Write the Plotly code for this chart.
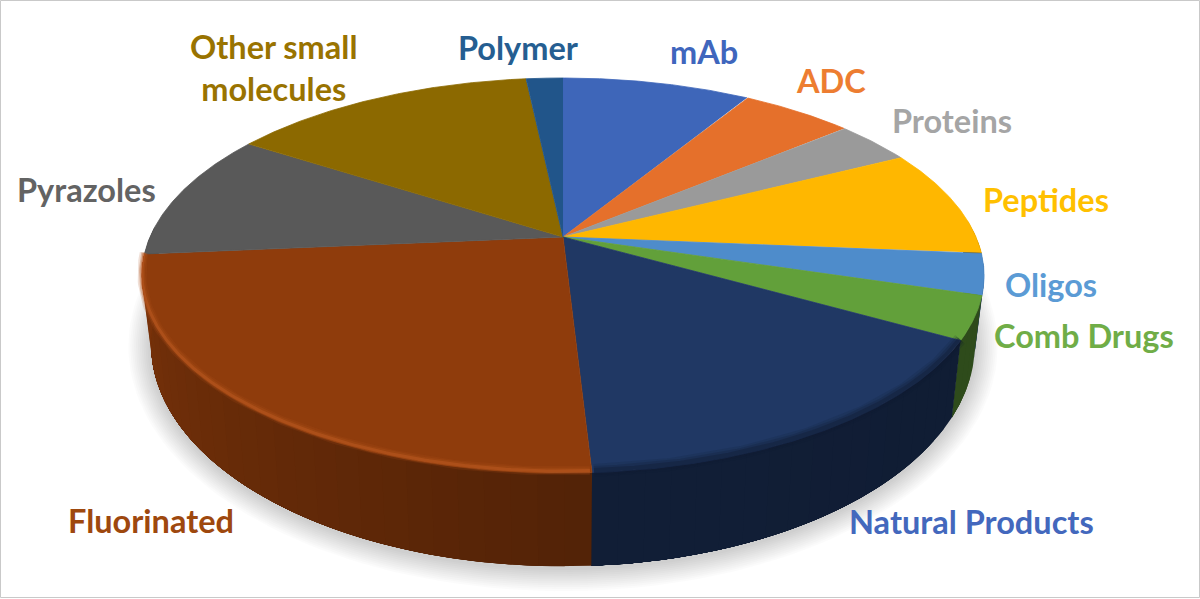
import numpy as np
import plotly.graph_objects as go

categories = ["mAb", "ADC", "Proteins", "Peptides", "Oligos", "Comb Drugs",
              "Natural Products", "Fluorinated", "Pyrazoles", "Other small<br>molecules", "Polymer"]
values = [8.7, 5.2, 3.6, 8.8, 3.4, 3.5, 15.9, 24.5, 10.5, 14.2, 1.7]

face_colors = ["#3e66b9", "#e5702b", "#9a9a9a", "#ffb700", "#4e8ccb", "#62a03a",
               "#203864", "#8f3c0c", "#595959", "#8c6900", "#21558a"]
text_colors = ["#3f66bd", "#ed7d31", "#a5a5a5", "#ffc000", "#5b9bd5", "#70ad47",
               "#4368bd", "#9e480e", "#636363", "#997300", "#255e91"]
label_x = [704, 831, 952, 1046, 1051, 1084, 971, 151, 86, 274, 518]
label_y = [51, 80, 120, 199, 284, 335, 521, 520, 189, 67, 47]

P = 0.195
CX = 563


def top(t):
    X, Y = np.sin(t), np.cos(t)
    w = 1 + P * Y
    return CX + 413 * X / w, 237 - 190 * Y / w


def low(t):
    X, Y = np.sin(t), np.cos(t)
    w = 1 + P * Y
    return CX + 404 * X / w, 301 - 213.6 * Y / w


def rgba(hexcol, f):
    r, g, b = [int(hexcol[i:i + 2], 16) for i in (1, 3, 5)]
    return f"rgb({int(r * f)},{int(g * f)},{int(b * f)})"


def shade(i, deg):
    name = categories[i]
    if name == "Fluorinated":
        return 0.58 + (min(deg, 270) - 177) / 93 * 0.29
    if name == "Natural Products":
        return 0.55 + (177 - deg) / 60 * -0.03
    return 0.47


edges = np.cumsum([0] + values) / sum(values) * 2 * np.pi
fig = go.Figure()


def poly(xs, ys, color, width=0.0):
    fig.add_trace(go.Scatter(x=list(xs), y=list(ys), mode="lines", fill="toself", fillcolor=color,
                             line=dict(color=color, width=width), hoverinfo="skip", showlegend=False))


# soft shadow under the disc
tt = np.linspace(0, 2 * np.pi, 200)
for k in range(12, 0, -1):
    lx, ly = low(tt)
    sx = CX + (lx - CX) * (1 + k * 1.9 / 412)
    sy = 344 + (ly - 344) * (1 + k * 1.9 / 222) + 2
    fig.add_trace(go.Scatter(x=sx, y=sy, mode="lines", fill="toself", fillcolor="rgba(0,0,0,0.016)",
                             line=dict(width=0), hoverinfo="skip", showlegend=False))

# walls: each strip runs on to the end of its slice, so later strips overlap and leave no seams
for i in range(len(values)):
    a, b = edges[i], edges[i + 1]
    a2, b2 = max(a, np.radians(85)), min(b, np.radians(273))
    if b2 <= a2:
        continue
    n = max(1, int(np.degrees(b2 - a2) / 3))
    s = np.linspace(a2, b2, n + 1)
    for j in range(n):
        t = np.linspace(s[j], b2, 40)
        tx, ty = top(t)
        lx, ly = low(t)
        poly(np.r_[tx, lx[::-1]], np.r_[ty, ly[::-1]],
             rgba(face_colors[i], shade(i, np.degrees((s[j] + s[j + 1]) / 2))))

# top faces
for i in range(len(values)):
    t = np.linspace(edges[i], edges[i + 1], 120)
    tx, ty = top(t)
    poly(np.r_[CX, tx], np.r_[237, ty], face_colors[i], width=0.8)

# rim bevel on the front faces
for name, shades in (("Fluorinated", [("rgba(170,78,26,0.18)", 9), ("rgba(176,82,28,0.3)", 6),
                                      ("rgba(186,88,32,0.55)", 3)]),
                     ("Natural Products", [("rgba(17,27,50,0.14)", 13), ("rgba(17,27,50,0.22)", 9),
                                           ("rgba(17,27,50,0.35)", 5)])):
    i = categories.index(name)
    t = np.linspace(edges[i] + 0.004, min(edges[i + 1], np.radians(268)) - 0.004, 150)
    tx, ty = top(t)
    ty = ty - 2
    for c, w in shades:
        fig.add_trace(go.Scatter(x=tx, y=ty, mode="lines", line=dict(color=c, width=w),
                                 hoverinfo="skip", showlegend=False))

annotations = [
    dict(x=x, y=y, text=f"<b>{c}</b>", showarrow=False, xanchor="center", yanchor="middle",
         font=dict(family="Lato", size=32.5, color=col), align="center")
    for c, x, y, col in zip(categories, label_x, label_y, text_colors)
]

fig.update_layout(
    width=1200, height=599, margin=dict(l=0, r=0, t=0, b=0),
    paper_bgcolor="white", plot_bgcolor="white", showlegend=False,
    xaxis=dict(range=[0, 1200], visible=False, fixedrange=True),
    yaxis=dict(range=[599, 0], visible=False, fixedrange=True),
    annotations=annotations,
    shapes=[dict(type="rect", x0=0.5, y0=0.5, x1=1199.5, y1=597.5,
                 line=dict(color="#c9c9c9", width=1))],
)
fig.write_html("out.html", config={"displayModeBar": False},
               post_script="document.body.style.margin='0';document.body.style.overflow='hidden';")
